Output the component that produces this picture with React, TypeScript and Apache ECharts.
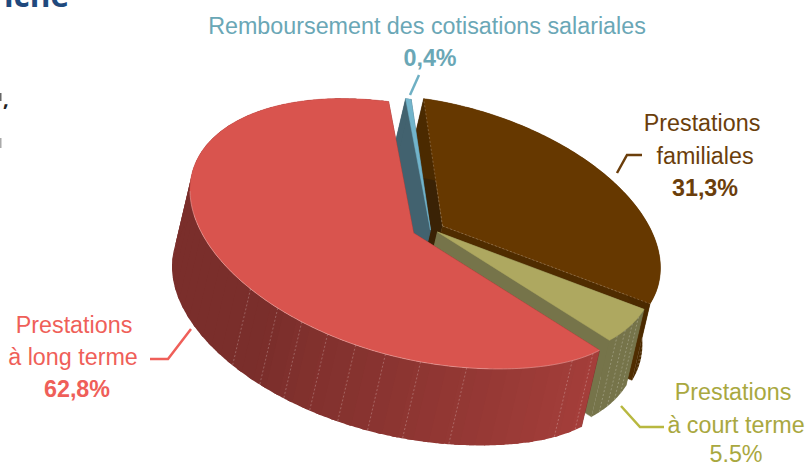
import React, { useEffect, useRef } from "react";
import * as echarts from "echarts";

const categories = ["Prestations familiales", "Remboursement des cotisations salariales", "Prestations à court terme", "Prestations à long terme"];
const shares = [31.3, 0.4, 5.5, 62.8];
const ringOrder = [1, 0, 2, 3];
const valueLabels = ["31,3%", "0,4%", "5.5%", "62,8%"];

const CX = 413.5, CY = 233, AX = 223.5, BX = 43, BY = 127.4, T0 = -96.4;
const SHIFT = [-18, 76.5];
const offsets = [[29, -7], [17, -3], [24, -1], [0, 0]];
const scales = [0.975, 1, 0.97, 1];
const topColors = ["#663800", "#72b4cb", "#aea860", "#d9544e"];
const startFace = ["#3a2205", "#42626f", "#76744a", "#7a2e2b"];
const endFace = ["#4f2c00", "#42626f", "#76744a", "#7a2e2b"];
const facetLines: number[][] = [
  [2, 6, 10, 14],
  [],
  [34, 30, 26, 22],
  [136.8, 127.4, 120, 112.6, 105, 97.2, 88.2, 76.3, 47, 40],
];

const FONT = "'Liberation Sans', Arial, sans-serif";
const RED = "#ef5f59", BROWN = "#6b3e0b", KHAKI = "#a9a83f", BLUE = "#6aa7b6";
const SIZE = 23.3;

function mix(a: number[], b: number[], k: number) {
  const c = a.map((x, i) => Math.round(x + (b[i] - x) * k));
  return `rgb(${c[0]},${c[1]},${c[2]})`;
}
function wallColor(i: number, t: number) {
  if (i === 3) {
    const n = ((t % 360) + 360) % 360;
    const k = Math.max(0, Math.min(1, (130 - n) / 90));
    return mix([122, 46, 43], [164, 62, 58], n > 200 ? 0 : k);
  }
  return ["#4b2a00", "#42626f", "#76744a"][i];
}

function renderItem(params: any, api: any) {
  const i = params.dataIndex;
  const value = api.value(0);
  const total = shares.reduce((a, b) => a + b, 0);
  let before = 0;
  for (const k of ringOrder) {
    if (k === i) break;
    before += shares[k];
  }
  const t1 = T0 + (before / total) * 360;
  const t2 = t1 + (value / total) * 360;
  const [ox, oy] = offsets[i];
  const P = (tDeg: number, s = 0) => {
    const t = (tDeg * Math.PI) / 180;
    const n = ((tDeg + 180) % 360 + 360) % 360 - 180;
    const bulge = i === 3 ? 0.05 * Math.exp(-Math.pow((n - 35) / 28, 2)) : 0;
    const sc = scales[i] * (1 + bulge);
    return [
      CX + ox + sc * AX * Math.cos(t) + s * SHIFT[0],
      CY + oy + sc * (BX * Math.cos(t) + BY * Math.sin(t)) + s * SHIFT[1],
    ];
  };
  const apex = [CX + ox, CY + oy];
  const children: any[] = [];
  const poly = (points: number[][], fill: string, stroke = true) =>
    children.push({ type: "polygon", shape: { points }, style: { fill, stroke: stroke ? fill : "none", lineWidth: 0.5 }, silent: true });
  const line = (points: number[][], stroke: string, w: number, dash?: number[]) =>
    children.push({ type: "polyline", shape: { points }, style: { fill: "none", stroke, lineWidth: w, lineDash: dash }, silent: true });

  const apexLow = [apex[0] + SHIFT[0], apex[1] + SHIFT[1]];
  poly([apex, P(t1), P(t1, 1), apexLow], startFace[i]);
  poly([apex, P(t2), P(t2, 1), apexLow], endFace[i]);

  const step = i === 3 ? 4 : Math.max(0.5, t2 - t1);
  for (let t = t1; t < t2; t += step) {
    const e = Math.min(t + step, t2);
    const far = Math.min(e + 1.5, t2);
    const band: number[][] = [];
    for (let u = t; u < far; u += 0.5) band.push(P(u));
    band.push(P(far));
    const low: number[][] = [];
    for (let u = far; u > t; u -= 0.5) low.push(P(u, 1));
    low.push(P(t, 1));
    poly([...band, ...low], wallColor(i, (t + e) / 2), false);
  }
  for (const t of facetLines[i]) {
    line([P(t), P(t, 1)], "rgba(255,255,255,0.34)", 0.7, [2, 2]);
  }
  const arc: number[][] = [];
  for (let t = t1; t <= t2; t += 1) arc.push(P(t));
  arc.push(P(t2));
  poly([apex, ...arc], topColors[i]);
  if (i === 3) {
    const lower: number[][] = [];
    for (let t = t1; t <= 180; t += 1) lower.push(P(t));
    line(lower, "rgba(255,255,255,0.45)", 0.6);
  }
  if (i === 0) {
    line([apex, P(t1)], "rgba(255,255,255,0.3)", 0.7, [2, 2]);
    line([apex, P(t2)], "rgba(255,255,255,0.3)", 0.7, [2, 2]);
  }
  return { type: "group", children };
}

function label(text: string, x: number, y: number, fill: string, bold = false, size = SIZE) {
  return {
    type: "text",
    x,
    y,
    silent: true,
    style: { text, fill, font: `${bold ? "bold " : ""}${size}px ${FONT}`, align: "center", verticalAlign: "middle" },
  };
}
function connector(points: number[][], stroke: string) {
  return { type: "polyline", silent: true, shape: { points }, style: { fill: "none", stroke, lineWidth: 2.5 } };
}

export default function App() {
  const ref = useRef<HTMLDivElement>(null);
  useEffect(() => {
    const chart = echarts.init(ref.current!, undefined, { renderer: "svg" });
    chart.setOption({
      animation: false,
      backgroundColor: "#ffffff",
      series: [
        {
          type: "custom",
          coordinateSystem: "none",
          name: "Prestations",
          data: categories.map((name, i) => ({ name, value: [shares[i]] })),
          renderItem,
          silent: true,
        },
      ],
      graphic: [
        { type: "text", x: 4, y: -22, silent: true, style: { text: "iche", fill: "#1f497d", font: "bold 31.5px 'Open Sans', sans-serif", align: "left", verticalAlign: "top" } },
        { type: "text", x: 3, y: 88, silent: true, style: { text: ",", fill: "#222222", font: "bold 20px 'Open Sans', sans-serif", align: "left", verticalAlign: "top" } },
        { type: "rect", silent: true, shape: { x: 0, y: 93, width: 1.5, height: 8 }, style: { fill: "#666666" } },
        { type: "rect", silent: true, shape: { x: 0, y: 138, width: 1.5, height: 10 }, style: { fill: "#aaaaaa" } },
        label(categories[1], 427, 26, BLUE),
        label(valueLabels[1], 430, 58, BLUE, true),
        connector([[419, 75], [410, 95]], "#6fb0c4"),
        label("Prestations", 702, 123, BROWN),
        label("familiales", 705, 156, BROWN),
        label(valueLabels[0], 705, 188, BROWN, true),
        connector([[617, 173], [627, 155], [642, 155]], BROWN),
        label("Prestations", 74, 325, RED),
        label("à long terme", 73, 357, RED),
        label(valueLabels[3], 77, 389, RED, true),
        connector([[150, 359], [168, 359], [191, 329]], RED),
        label("Prestations", 733, 392, KHAKI),
        label("à court terme", 736, 425, KHAKI),
        label(valueLabels[2], 736, 454, KHAKI),
        connector([[621, 406], [640, 427], [664, 427]], "#b8b840"),
      ],
    });
    return () => chart.dispose();
  }, []);
  return <div ref={ref} style={{ position: "absolute", left: 0, top: 0, width: 808, height: 466 }} />;
}
